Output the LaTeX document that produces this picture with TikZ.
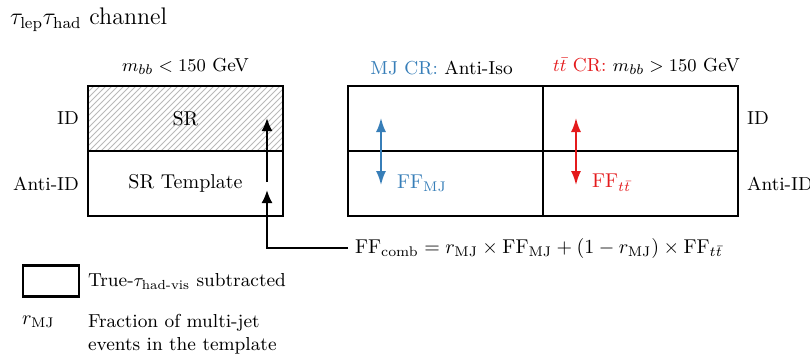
\documentclass[tikz,border=0pt]{standalone}
\usepackage{amsmath}
\usepackage{tikz}
\usetikzlibrary{positioning,patterns,arrows.meta}

\definecolor{mjblue}{RGB}{55,126,184}
\definecolor{ttred}{RGB}{228,26,28}

\begin{document}
\begin{tikzpicture}[x=0.5pt,y=-0.5pt,
        cell/.style={rectangle, draw, line width=1.2pt, outer sep=0pt,
                     minimum width=97.5pt, minimum height=32.5pt},
        small label/.style={font=\fontsize{9.4pt}{11.5pt}\selectfont},
        arr/.style={-{Latex[length=6.5pt,width=5.5pt]}, line width=1pt},
        ffarr/.style={{Latex[length=7pt,width=5pt]}-{Latex[length=7pt,width=5pt]}, line width=0.9pt}]

        \useasboundingbox (0,0) rectangle (810,354);

        \node[anchor=west, font=\large] (title) at (3,20) {$\tau_{\mathrm{lep}}\tau_{\mathrm{had}}$ channel};

        % signal region
        \node[cell, pattern=north east lines, pattern color=gray!55] (sr) at (185.5,118.5) {};
        \node at (sr) {SR};
        \node[cell, below=0pt of sr] (srt) {SR Template};
        \node[small label, above=2pt of sr] (srhead) {$m_{bb} < 150$ GeV};
        \node[small label, left=1pt of sr] (idl) {ID};
        \node[small label, left=1pt of srt] (antil) {Anti-ID};

        % control regions
        \node[cell] (mjid) at (445.5,118.5) {};
        \node[cell, below=0pt of mjid] (mjanti) {};
        \node[cell, right=0pt of mjid] (ttid) {};
        \node[cell, below=0pt of ttid] (ttanti) {};
        \node[small label, above=2pt of mjid, xshift=-2pt] (mjhead) {{\color{mjblue}MJ CR:} Anti-Iso};
        \node[small label, above=2pt of ttid, xshift=3pt] (tthead) {{\color{ttred}$t\bar{t}$ CR:} $m_{bb} > 150$ GeV};
        \node[small label, right=1pt of ttid] (idr) {ID};
        \node[small label, right=1pt of ttanti] (antir) {Anti-ID};

        % fake factors
        \coordinate (mjtop) at (381,118);
        \coordinate (mjbot) at (381,185);
        \coordinate (tttop) at (576,118);
        \coordinate (ttbot) at (576,185);
        \draw[ffarr, mjblue] (mjtop) -- (mjbot);
        \draw[ffarr, ttred] (tttop) -- (ttbot);
        \node[anchor=west, text=mjblue] (ffmj) at (390,183) {$\mathrm{FF}_{\mathrm{MJ}}$};
        \node[anchor=west, text=ttred] (fftt) at (585,183) {$\mathrm{FF}_{t\bar{t}}$};

        % combination
        \node[anchor=west] (comb) at (348,248)
          {$\mathrm{FF}_{\mathrm{comb}} = r_{\mathrm{MJ}} \times \mathrm{FF}_{\mathrm{MJ}} + (1 - r_{\mathrm{MJ}}) \times \mathrm{FF}_{t\bar{t}}$};
        \coordinate (in) at (267,190);
        \coordinate (out) at (267,182);
        \coordinate (up) at (267,118);
        \draw[arr] (comb.west) -| (in);
        \draw[arr] (out) -- (up);

        % legend
        \node[draw, line width=1.2pt, minimum width=28pt, minimum height=15.5pt] (key) at (51,281) {};
        \node[small label, anchor=west] (keytext) at (81,282) {True-$\tau_{\text{had-vis}}$ subtracted};
        \node[anchor=west] (rmj) at (15,322) {$r_{\mathrm{MJ}}$};
        \node[small label, anchor=west, align=left] (rmjtext) at (81,334) {Fraction of multi-jet\\events in the template};
    \end{tikzpicture}
\end{document}
